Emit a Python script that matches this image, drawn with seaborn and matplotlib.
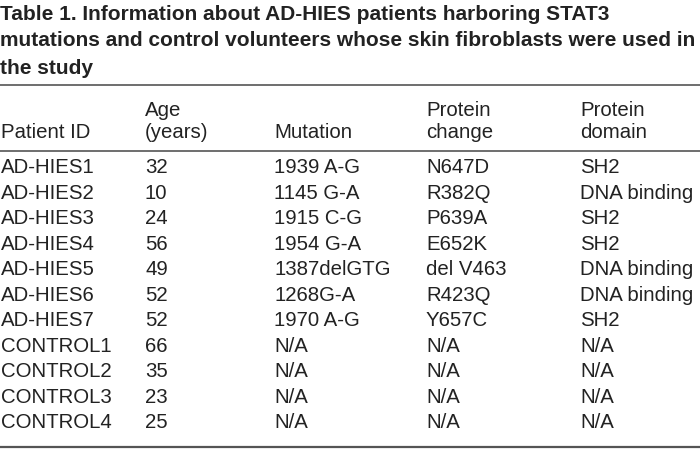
import matplotlib
matplotlib.use("Agg")
import matplotlib.pyplot as plt
import seaborn as sns

# Données du tableau
title_lines = [
    "Table 1. Information about AD-HIES patients harboring STAT3",
    "mutations and control volunteers whose skin fibroblasts were used in",
    "the study",
]
header_top = ["", "Age", "", "Protein", "Protein"]
header_bottom = ["Patient ID", "(years)", "Mutation", "change", "domain"]
patient_ids = ["AD-HIES1", "AD-HIES2", "AD-HIES3", "AD-HIES4", "AD-HIES5", "AD-HIES6",
               "AD-HIES7", "CONTROL1", "CONTROL2", "CONTROL3", "CONTROL4"]
ages = [32, 10, 24, 56, 49, 52, 52, 66, 35, 23, 25]
mutations = ["1939 A-G", "1145 G-A", "1915 C-G", "1954 G-A", "1387delGTG", "1268G-A",
             "1970 A-G", "N/A", "N/A", "N/A", "N/A"]
protein_changes = ["N647D", "R382Q", "P639A", "E652K", "del V463", "R423Q", "Y657C",
                   "N/A", "N/A", "N/A", "N/A"]
protein_domains = ["SH2", "DNA binding", "SH2", "SH2", "DNA binding", "DNA binding", "SH2",
                   "N/A", "N/A", "N/A", "N/A"]

sns.set_theme(style="white")
plt.rcParams["font.family"] = ["Liberation Sans", "DejaVu Sans"]

fig = plt.figure(figsize=(7, 4.56), dpi=100)
ax = fig.add_axes([0, 0, 1, 1])
ax.set_xlim(0, 700)
ax.set_ylim(456, 0)
ax.axis("off")

col_x = [1, 145, 274, 426, 580]
text_color = "#222222"
body_size = 14.7

# Titre
for i, line in enumerate(title_lines):
    ax.text(0, 14 + i * 27, line, fontsize=15, fontweight="bold", color=text_color,
            va="center", ha="left")

# Filets
rule_color = "#555555"
ax.plot([0, 700], [86, 86], color=rule_color, lw=1.2)
ax.plot([0, 700], [152, 152], color=rule_color, lw=1.2)
ax.plot([0, 700], [448, 448], color=rule_color, lw=1.6)

# En-têtes
for x, top, bottom in zip(col_x, header_top, header_bottom):
    ax.text(x, 111, top, fontsize=body_size, color=text_color, va="center", ha="left")
    ax.text(x, 133, bottom, fontsize=body_size, color=text_color, va="center", ha="left")

# Lignes
columns = [patient_ids, [str(a) for a in ages], mutations, protein_changes, protein_domains]
for r in range(len(patient_ids)):
    y = 168 + r * 25.5
    for x, col in zip(col_x, columns):
        ax.text(x, y, col[r], fontsize=body_size, color=text_color, va="center", ha="left")

fig.savefig("out.png", dpi=100)
